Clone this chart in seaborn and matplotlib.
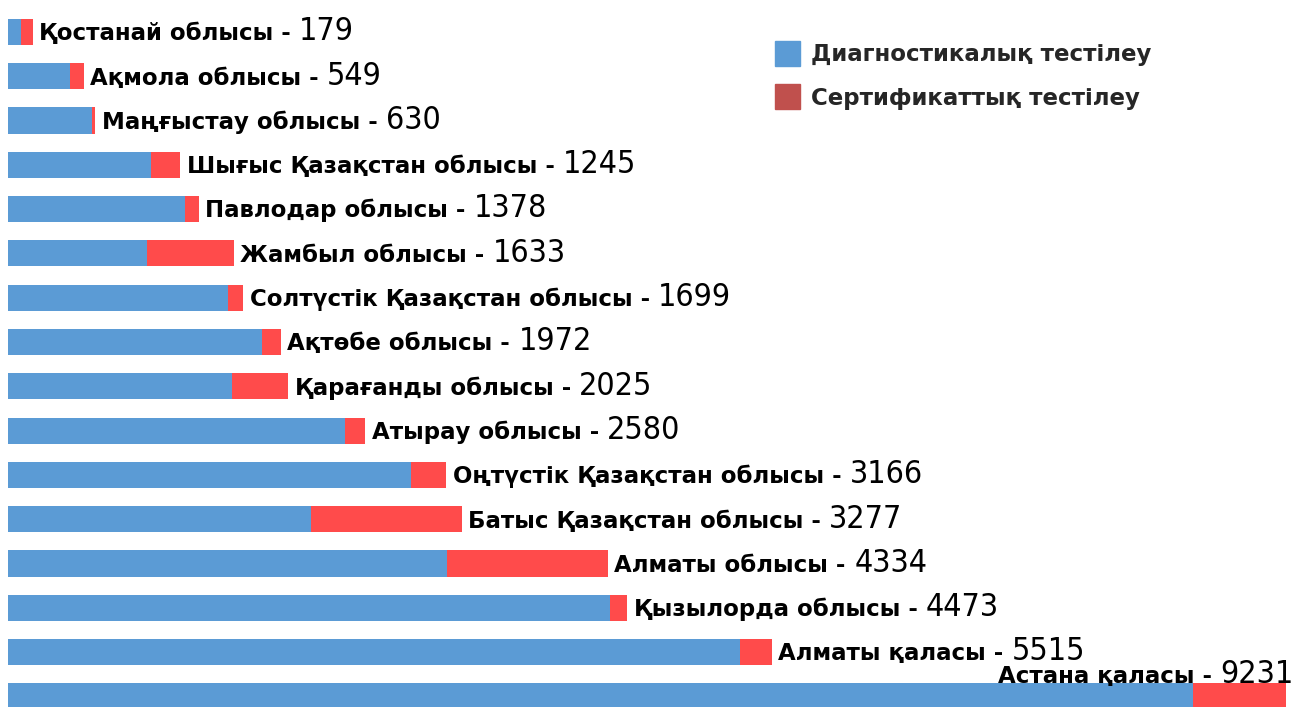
import matplotlib
matplotlib.use("Agg")
import matplotlib.pyplot as plt
import matplotlib.patches as mpatches
import seaborn as sns

regions = ["Қостанай облысы", "Ақмола облысы", "Маңғыстау облысы",
           "Шығыс Қазақстан облысы", "Павлодар облысы", "Жамбыл облысы",
           "Солтүстік Қазақстан облысы", "Ақтөбе облысы", "Қарағанды облысы",
           "Атырау облысы", "Оңтүстік Қазақстан облысы", "Батыс Қазақстан облысы",
           "Алматы облысы", "Қызылорда облысы", "Алматы қаласы", "Астана қаласы"]
diagnostic = [95, 445, 606, 1036, 1277, 1007, 1591, 1832, 1620, 2434,
              2912, 2190, 3168, 4347, 5285, 8555]
certificate = [84, 104, 24, 209, 101, 626, 108, 140, 405, 146,
               254, 1087, 1166, 126, 230, 676]
totals = [d + c for d, c in zip(diagnostic, certificate)]
legend_labels = ["Диагностикалық тестілеу", "Сертификаттық тестілеу"]

blue = "#5B9BD5"
red = "#FF4B4B"
legend_red = "#C0504D"

sns.set_theme(style="white")
plt.rcParams["font.family"] = ["DejaVu Sans"]

fig = plt.figure(figsize=(12.96, 7.07), dpi=100)
ax = fig.add_axes([8 / 1296, 0, 1 - 8 / 1296, 1])

# red bar = total, blue drawn on top -> stacked look
sns.barplot(x=totals, y=regions, color=red, saturation=1, width=0.59, orient="h",
            linewidth=0, edgecolor="none", ax=ax)
sns.barplot(x=diagnostic, y=regions, color=blue, saturation=1, width=0.59, orient="h",
            linewidth=0, edgecolor="none", ax=ax)
ax.set_xlim(0, 9300)
ax.set_ylim(15.24, -0.72)
ax.axis("off")

name_font = dict(fontsize=16.5, fontweight="bold", color="black")
num_font = dict(fontsize=23, family=["Liberation Sans Narrow", "DejaVu Sans"],
                fontstretch="condensed", color="black")

last = len(regions) - 1
for i, (name, total) in enumerate(zip(regions, totals)):
    if i == last:
        # Astana label sits above its bar, flush with the right edge
        num = ax.annotate(str(total), xy=(1, i), xycoords=("axes fraction", "data"),
                          xytext=(-2, 9.5), textcoords="offset points",
                          ha="right", va="baseline", **num_font)
        ax.annotate(name + " -", xy=(0, i), xycoords=(num, "data"),
                    xytext=(-6, 9.5), textcoords="offset points",
                    ha="right", va="baseline", **name_font)
        continue
    t = ax.annotate(name + " -", xy=(total, i), xytext=(4.5, -6),
                    textcoords="offset points", ha="left", va="baseline", **name_font)
    ax.annotate(str(total), xy=(1, i), xycoords=(t, "data"), xytext=(6, -6),
                textcoords="offset points", ha="left", va="baseline", **num_font)

handles = [mpatches.Patch(color=blue), mpatches.Patch(color=legend_red)]
ax.legend(handles, legend_labels, loc="upper left",
          bbox_to_anchor=(775 / 1296, 1 - 41 / 707), bbox_transform=fig.transFigure,
          frameon=False, borderpad=0, borderaxespad=0,
          prop=dict(weight="bold", size=16.5),
          handlelength=1.1, handleheight=1.3, handletextpad=0.45, labelspacing=0.8)

fig.savefig("out.png", dpi=100, facecolor="white")
